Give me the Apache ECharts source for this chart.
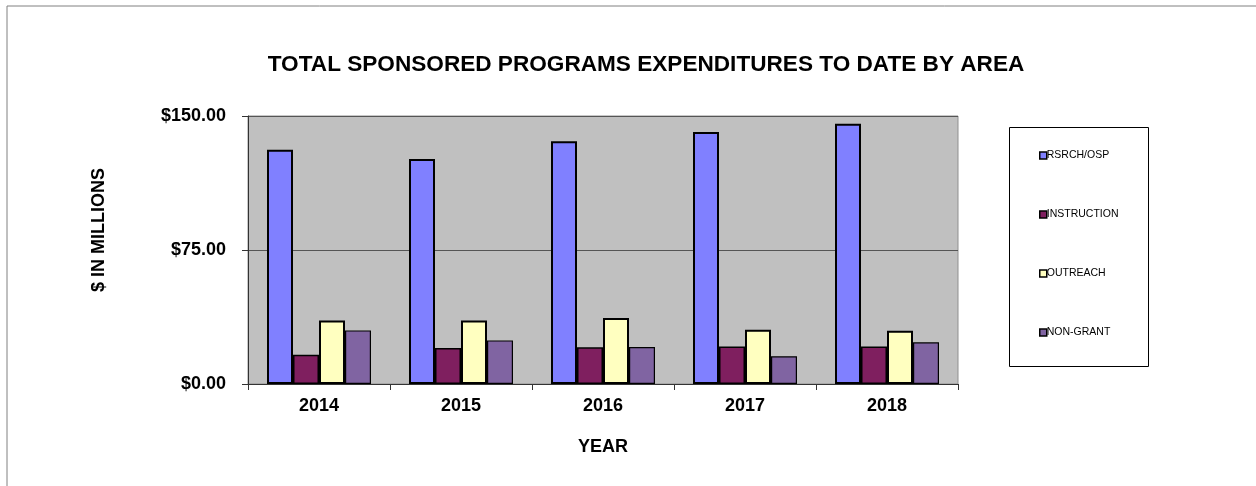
<!DOCTYPE html>
<html>
<head>
<meta charset="utf-8">
<script src="https://cdn.jsdelivr.net/npm/echarts@6/dist/echarts.min.js"></script>
<style>
    html, body { margin: 0; padding: 0; background: #fff; }
    #chart { width: 1256px; height: 486px; }
</style>
</head>
<body>
<div id="chart"></div>
<script>
// data
const years = ['2014', '2015', '2016', '2017', '2018'];
const rsrchOsp = [131.1, 125.9, 135.8, 141.0, 145.7];
const instruction = [16.4, 20.1, 20.5, 21.0, 21.0];
const outreach = [35.6, 35.6, 36.9, 30.4, 29.8];
const nonGrant = [30.0, 24.4, 20.7, 15.5, 23.3];
const yTicks = [0, 75, 150];

const font = 'Arial, "Liberation Sans", sans-serif';

let chart = echarts.init(document.getElementById('chart'));

// common bar settings
function makeBar(name, data, color, border) {
    return {
        name: name,
        type: 'bar',
        data: data,
        barWidth: 26,
        barGap: '0%',
        itemStyle: { color: color, borderColor: '#000', borderWidth: border },
        emphasis: { disabled: true }
    };
}

let option = {
    animation: false,
    backgroundColor: '#fff',
    title: {
        text: 'TOTAL SPONSORED PROGRAMS EXPENDITURES TO DATE BY AREA',
        left: 641,
        top: 48,
        textAlign: 'center',
        textStyle: { fontFamily: font, fontSize: 22.6, fontWeight: 'bold', color: '#000' }
    },
    grid: {
        left: 248, right: 298, top: 116, bottom: 102,
        show: true,
        backgroundColor: '#c0c0c0',
        borderColor: '#909090',
        borderWidth: 1
    },
    legend: {
        orient: 'vertical',
        left: 1039,
        top: 150,
        padding: 0,
        itemGap: 48,
        itemWidth: 7,
        itemHeight: 7,
        icon: 'rect',
        itemStyle: { borderColor: '#000', borderWidth: 1.5 },
        textStyle: { fontFamily: font, fontSize: 10.5, color: '#000', padding: [0, 0, 0, -5] },
        data: ['RSRCH/OSP', 'INSTRUCTION', 'OUTREACH', 'NON-GRANT']
    },
    xAxis: {
        type: 'category',
        data: years,
        name: 'YEAR',
        nameLocation: 'middle',
        nameGap: 54,
        nameTextStyle: { fontFamily: font, fontSize: 18, fontWeight: 'bold', color: '#000' },
        axisLine: { lineStyle: { color: '#333', width: 1 } },
        axisTick: { show: true, length: 6, lineStyle: { color: '#333' } },
        axisLabel: { fontFamily: font, fontSize: 18, fontWeight: 'bold', color: '#000', margin: 13 }
    },
    yAxis: {
        type: 'value',
        min: yTicks[0],
        max: yTicks[2],
        interval: yTicks[1],
        axisLine: { show: true, lineStyle: { color: '#333', width: 1 } },
        axisTick: { show: true, length: 6, lineStyle: { color: '#333' } },
        axisLabel: {
            fontFamily: font, fontSize: 18, fontWeight: 'bold', color: '#000', margin: 22,
            formatter: v => '$' + v.toFixed(2)
        },
        splitLine: { show: true, lineStyle: { color: '#555', width: 1 } }
    },
    graphic: [
        // outer chart frame
        { type: 'rect', shape: { x: 7, y: 6, width: 1260, height: 500 },
          style: { fill: null, stroke: '#808080', lineWidth: 1 }, silent: true, z: -1 },
        // legend box
        { type: 'rect', shape: { x: 1009.5, y: 127.5, width: 139, height: 239 },
          style: { fill: '#fff', stroke: '#000', lineWidth: 1 }, silent: true, z: -1 },
        // y axis name
        { type: 'text', x: 99, y: 230, rotation: Math.PI / 2,
          style: { text: '$ IN MILLIONS', fontFamily: font, fontSize: 18, fontWeight: 'bold',
                   fill: '#000', align: 'center', verticalAlign: 'middle' } }
    ],
    series: [
        makeBar('RSRCH/OSP', rsrchOsp, '#8080ff', 2),
        makeBar('INSTRUCTION', instruction, '#7f1f5f', 1.5),
        makeBar('OUTREACH', outreach, '#ffffc0', 2),
        makeBar('NON-GRANT', nonGrant, '#8064a2', 1.2)
    ]
};

chart.setOption(option);
</script>
</body>
</html>
